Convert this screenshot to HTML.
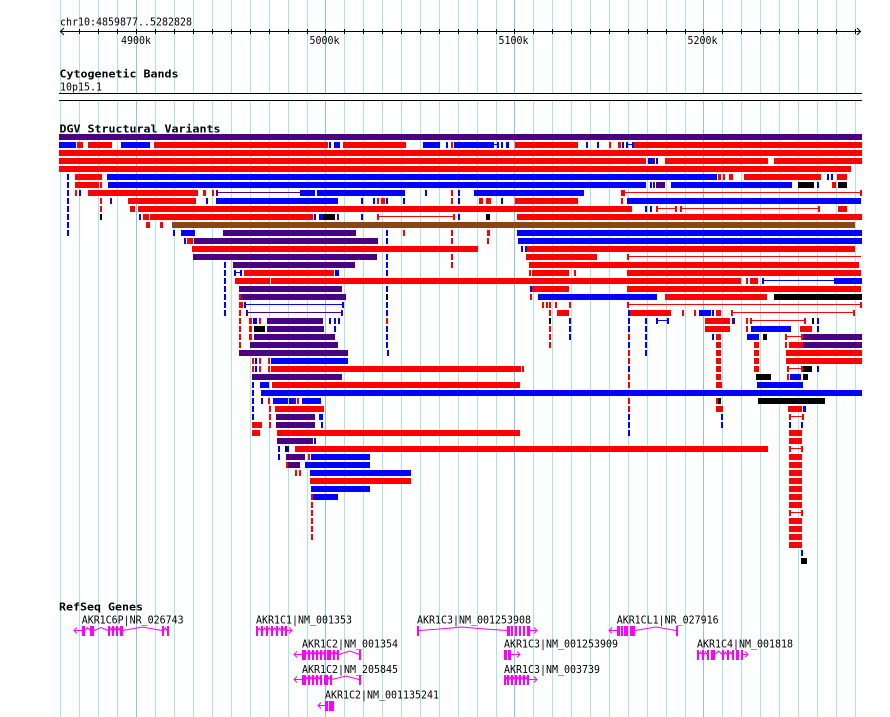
<!DOCTYPE html>
<html><head><meta charset="utf-8"><style>
html,body{margin:0;padding:0;background:#fff;}
svg{display:block;}
.r{fill:#ff0000}.b{fill:#0000ff}.p{fill:#4b0082}.k{fill:#000}.n{fill:#8b4513}
.g{fill:#a6e4ee}.G{fill:#86c4ec}
.t{font-family:"DejaVu Sans Mono","Liberation Mono",monospace;font-size:11px;fill:#000}
.tb{font-family:"DejaVu Sans Mono","Liberation Mono",monospace;font-size:11px;font-weight:bold;fill:#000}
.m{fill:#ff00ff}.ms{fill:none;stroke:#ff00ff;stroke-width:1}
</style></head><body>
<svg width="890" height="717" viewBox="0 0 890 717" xmlns="http://www.w3.org/2000/svg">
<rect x="0" y="0" width="890" height="717" fill="#fff"/>
<g>
<rect class="g" x="60" y="0" width="1" height="717"/><rect class="g" x="79" y="0" width="1" height="717"/><rect class="g" x="98" y="0" width="1" height="717"/><rect class="g" x="117" y="0" width="1" height="717"/><rect class="G" x="136" y="0" width="1" height="717"/><rect class="g" x="155" y="0" width="1" height="717"/><rect class="g" x="174" y="0" width="1" height="717"/><rect class="g" x="193" y="0" width="1" height="717"/><rect class="g" x="212" y="0" width="1" height="717"/><rect class="g" x="231" y="0" width="1" height="717"/><rect class="g" x="250" y="0" width="1" height="717"/><rect class="g" x="269" y="0" width="1" height="717"/><rect class="g" x="288" y="0" width="1" height="717"/><rect class="g" x="307" y="0" width="1" height="717"/><rect class="G" x="325" y="0" width="1" height="717"/><rect class="g" x="344" y="0" width="1" height="717"/><rect class="g" x="363" y="0" width="1" height="717"/><rect class="g" x="382" y="0" width="1" height="717"/><rect class="g" x="401" y="0" width="1" height="717"/><rect class="g" x="420" y="0" width="1" height="717"/><rect class="g" x="439" y="0" width="1" height="717"/><rect class="g" x="458" y="0" width="1" height="717"/><rect class="g" x="477" y="0" width="1" height="717"/><rect class="g" x="496" y="0" width="1" height="717"/><rect class="G" x="514" y="0" width="1" height="717"/><rect class="g" x="533" y="0" width="1" height="717"/><rect class="g" x="552" y="0" width="1" height="717"/><rect class="g" x="571" y="0" width="1" height="717"/><rect class="g" x="590" y="0" width="1" height="717"/><rect class="g" x="609" y="0" width="1" height="717"/><rect class="g" x="628" y="0" width="1" height="717"/><rect class="g" x="647" y="0" width="1" height="717"/><rect class="g" x="666" y="0" width="1" height="717"/><rect class="g" x="685" y="0" width="1" height="717"/><rect class="G" x="703" y="0" width="1" height="717"/><rect class="g" x="722" y="0" width="1" height="717"/><rect class="g" x="741" y="0" width="1" height="717"/><rect class="g" x="760" y="0" width="1" height="717"/><rect class="g" x="779" y="0" width="1" height="717"/><rect class="g" x="798" y="0" width="1" height="717"/><rect class="g" x="817" y="0" width="1" height="717"/><rect class="g" x="836" y="0" width="1" height="717"/><rect class="g" x="855" y="0" width="1" height="717"/>
</g>
<!-- ruler -->
<text class="t" x="60" y="25.5" textLength="132" lengthAdjust="spacingAndGlyphs">chr10:4859877..5282828</text>
<rect class="k" x="60" y="31" width="801" height="1"/>
<polyline points="64,28 60.5,31.5 64,35" fill="none" stroke="#000" stroke-width="1"/>
<polyline points="857,28 860.5,31.5 857,35" fill="none" stroke="#000" stroke-width="1"/>
<g class="k">
<rect x="79" y="29" width="1" height="5"/><rect x="98" y="29" width="1" height="5"/><rect x="117" y="29" width="1" height="5"/><rect x="136" y="29" width="1" height="5"/><rect x="155" y="29" width="1" height="5"/><rect x="174" y="29" width="1" height="5"/><rect x="193" y="29" width="1" height="5"/><rect x="212" y="29" width="1" height="5"/><rect x="231" y="29" width="1" height="5"/><rect x="250" y="29" width="1" height="5"/><rect x="269" y="29" width="1" height="5"/><rect x="288" y="29" width="1" height="5"/><rect x="307" y="29" width="1" height="5"/><rect x="325" y="29" width="1" height="5"/><rect x="344" y="29" width="1" height="5"/><rect x="363" y="29" width="1" height="5"/><rect x="382" y="29" width="1" height="5"/><rect x="401" y="29" width="1" height="5"/><rect x="420" y="29" width="1" height="5"/><rect x="439" y="29" width="1" height="5"/><rect x="458" y="29" width="1" height="5"/><rect x="477" y="29" width="1" height="5"/><rect x="496" y="29" width="1" height="5"/><rect x="514" y="29" width="1" height="5"/><rect x="533" y="29" width="1" height="5"/><rect x="552" y="29" width="1" height="5"/><rect x="571" y="29" width="1" height="5"/><rect x="590" y="29" width="1" height="5"/><rect x="609" y="29" width="1" height="5"/><rect x="628" y="29" width="1" height="5"/><rect x="647" y="29" width="1" height="5"/><rect x="666" y="29" width="1" height="5"/><rect x="685" y="29" width="1" height="5"/><rect x="703" y="29" width="1" height="5"/><rect x="722" y="29" width="1" height="5"/><rect x="741" y="29" width="1" height="5"/><rect x="760" y="29" width="1" height="5"/><rect x="779" y="29" width="1" height="5"/><rect x="798" y="29" width="1" height="5"/><rect x="817" y="29" width="1" height="5"/><rect x="836" y="29" width="1" height="5"/><rect x="855" y="29" width="1" height="5"/>
</g>
<text class="t" x="121" y="44" textLength="30" lengthAdjust="spacingAndGlyphs">4900k</text>
<text class="t" x="309.5" y="44" textLength="30" lengthAdjust="spacingAndGlyphs">5000k</text>
<text class="t" x="498.5" y="44" textLength="30" lengthAdjust="spacingAndGlyphs">5100k</text>
<text class="t" x="687.5" y="44" textLength="30" lengthAdjust="spacingAndGlyphs">5200k</text>
<!-- cytoband -->
<text class="tb" x="59.5" y="77.7" textLength="119" lengthAdjust="spacingAndGlyphs">Cytogenetic Bands</text>
<text class="t" x="60" y="90.6" textLength="42" lengthAdjust="spacingAndGlyphs">10p15.1</text>
<rect x="59" y="94" width="803" height="6" fill="#fff"/>
<rect class="k" x="59" y="93" width="803" height="1"/>
<rect class="k" x="59" y="100" width="803" height="1"/>
<text class="tb" x="59.5" y="132.6" textLength="161" lengthAdjust="spacingAndGlyphs">DGV Structural Variants</text>
<!-- DGV rows -->
<g transform="translate(0,134)"><rect class="p" x="59" width="803" height="6"/></g>
<g transform="translate(0,142)"><rect class="b" x="59" width="17" height="6"/><rect class="r" x="77" width="6" height="6"/><rect class="r" x="88" width="24" height="6"/><rect class="b" x="121" width="29" height="6"/><rect class="r" x="154" width="174" height="6"/><rect class="b" x="329" width="2" height="6"/><rect class="b" x="334" width="6" height="6"/><rect class="r" x="343" width="63" height="6"/><rect class="b" x="423" width="17" height="6"/><rect class="b" x="446" width="2" height="6"/><rect class="r" x="451" width="2" height="6"/><rect class="b" x="454" width="40" height="6"/><rect class="b" x="494" y="2" width="3" height="1"/><rect class="b" x="497" width="2" height="6"/><rect class="b" x="501" width="2" height="6"/><rect class="b" x="506" width="3" height="6"/><rect class="r" x="515" width="63" height="6"/><rect class="b" x="586" width="2" height="6"/><rect class="b" x="597" width="2" height="6"/><rect class="r" x="609" width="2" height="6"/><rect class="r" x="618" width="3" height="6"/><rect class="b" x="622" width="2" height="6"/><rect class="b" x="626" width="2" height="6"/><rect class="b" x="628" y="2" width="4" height="1"/><rect class="b" x="632" width="2" height="6"/><rect class="r" x="634" width="228" height="6"/></g>
<g transform="translate(0,150)"><rect class="r" x="59" width="803" height="6"/></g>
<g transform="translate(0,158)"><rect class="r" x="59" width="587" height="6"/><rect class="b" x="648" width="4" height="6"/><rect class="p" x="652" width="3" height="6"/><rect class="b" x="656" width="2" height="6"/><rect class="r" x="665" width="103" height="6"/><rect class="r" x="774" width="88" height="6"/></g>
<g transform="translate(0,166)"><rect class="r" x="59" width="792" height="6"/></g>
<g transform="translate(0,174)"><rect class="b" x="67" width="2" height="6"/><rect class="r" x="75" width="27" height="6"/><rect class="b" x="107" width="610" height="6"/><rect class="r" x="718" width="3" height="6"/><rect class="r" x="723" width="2" height="6"/><rect class="r" x="729" width="4" height="6"/><rect class="r" x="744" width="77" height="6"/><rect class="b" x="827" width="2" height="6"/><rect class="b" x="831" width="2" height="6"/><rect class="r" x="837" width="10" height="6"/></g>
<g transform="translate(0,182)"><rect class="b" x="67" width="2" height="6"/><rect class="r" x="75" width="24" height="6"/><rect class="r" x="100" width="2" height="6"/><rect class="b" x="108" width="538" height="6"/><rect class="b" x="650" width="2" height="6"/><rect class="p" x="653" width="2" height="6"/><rect class="p" x="656" width="9" height="6"/><rect class="b" x="671" width="121" height="6"/><rect class="k" x="798" width="16" height="6"/><rect class="b" x="817" width="2" height="6"/><rect class="r" x="832" width="4" height="6"/><rect class="k" x="838" width="9" height="6"/></g>
<g transform="translate(0,190)"><rect class="b" x="67" width="2" height="6"/><rect class="r" x="75" width="2" height="6"/><rect class="b" x="79" width="2" height="6"/><rect class="r" x="88" width="110" height="6"/><rect class="r" x="203" width="3" height="6"/><rect class="r" x="212" width="2" height="6"/><rect class="p" x="216" width="2" height="6"/><rect class="p" x="218" y="2" width="82" height="1"/><rect class="b" x="300" width="15" height="6"/><rect class="b" x="317" width="88" height="6"/><rect class="b" x="425" width="2" height="6"/><rect class="r" x="451" width="2" height="6"/><rect class="b" x="458" width="2" height="6"/><rect class="b" x="474" width="110" height="6"/><rect class="r" x="621" width="4" height="6"/><rect class="r" x="625" y="2" width="235" height="1"/><rect class="r" x="860" width="2" height="6"/></g>
<g transform="translate(0,198)"><rect class="b" x="67" width="2" height="6"/><rect class="r" x="100" width="2" height="6"/><rect class="p" x="110" width="2" height="6"/><rect class="r" x="128" width="68" height="6"/><rect class="b" x="206" width="2" height="6"/><rect class="b" x="216" width="122" height="6"/><rect class="b" x="361" width="2" height="6"/><rect class="b" x="373" width="2" height="6"/><rect class="r" x="377" width="2" height="6"/><rect class="r" x="381" width="4" height="6"/><rect class="b" x="386" width="2" height="6"/><rect class="b" x="403" width="2" height="6"/><rect class="r" x="451" width="2" height="6"/><rect class="b" x="458" width="2" height="6"/><rect class="r" x="479" width="4" height="6"/><rect class="r" x="486" width="5" height="6"/><rect class="b" x="501" width="2" height="6"/><rect class="r" x="515" width="63" height="6"/><rect class="r" x="621" width="2" height="6"/><rect class="b" x="627" width="234" height="6"/></g>
<g transform="translate(0,206)"><rect class="b" x="67" width="2" height="6"/><rect class="r" x="100" width="2" height="6"/><rect class="r" x="130" width="5" height="6"/><rect class="r" x="138" width="494" height="6"/><rect class="b" x="645" width="2" height="6"/><rect class="b" x="650" width="2" height="6"/><rect class="r" x="656" width="2" height="6"/><rect class="r" x="658" y="2" width="17" height="1"/><rect class="r" x="675" width="2" height="6"/><rect class="r" x="680" width="2" height="6"/><rect class="r" x="682" y="2" width="136" height="1"/><rect class="r" x="818" width="2" height="6"/><rect class="r" x="838" width="9" height="6"/></g>
<g transform="translate(0,214)"><rect class="b" x="67" width="2" height="6"/><rect class="k" x="100" width="2" height="6"/><rect class="p" x="139" width="2" height="6"/><rect class="r" x="143" width="6" height="6"/><rect class="r" x="150" width="163" height="6"/><rect class="b" x="314" width="2" height="6"/><rect class="b" x="319" width="4" height="6"/><rect class="k" x="323" width="12" height="6"/><rect class="p" x="337" width="2" height="6"/><rect class="b" x="361" width="2" height="6"/><rect class="r" x="377" width="2" height="6"/><rect class="r" x="379" y="2" width="74" height="1"/><rect class="r" x="453" width="2" height="6"/><rect class="b" x="458" width="2" height="6"/><rect class="k" x="486" width="4" height="6"/><rect class="r" x="517" width="345" height="6"/></g>
<g transform="translate(0,222)"><rect class="b" x="67" width="2" height="6"/><rect class="r" x="146" width="4" height="6"/><rect class="r" x="160" width="3" height="6"/><rect class="n" x="172" width="683" height="6"/></g>
<g transform="translate(0,230)"><rect class="b" x="67" width="2" height="6"/><rect class="b" x="173" width="2" height="6"/><rect class="b" x="181" width="14" height="6"/><rect class="p" x="223" width="133" height="6"/><rect class="b" x="386" width="2" height="6"/><rect class="r" x="403" width="2" height="6"/><rect class="r" x="451" width="2" height="6"/><rect class="r" x="487" width="3" height="6"/><rect class="b" x="517" width="345" height="6"/></g>
<g transform="translate(0,238)"><rect class="b" x="184" width="2" height="6"/><rect class="r" x="187" width="6" height="6"/><rect class="p" x="194" width="184" height="6"/><rect class="b" x="386" width="2" height="6"/><rect class="r" x="451" width="2" height="6"/><rect class="r" x="487" width="2" height="6"/><rect class="b" x="518" width="344" height="6"/></g>
<g transform="translate(0,246)"><rect class="r" x="192" width="286" height="6"/><rect class="b" x="521" width="2" height="6"/><rect class="b" x="525" width="2" height="6"/><rect class="r" x="527" width="328" height="6"/></g>
<g transform="translate(0,254)"><rect class="p" x="193" width="184" height="6"/><rect class="b" x="386" width="2" height="6"/><rect class="r" x="451" width="2" height="6"/><rect class="r" x="526" width="71" height="6"/><rect class="r" x="627" width="2" height="6"/><rect class="r" x="629" y="2" width="232" height="1"/></g>
<g transform="translate(0,262)"><rect class="b" x="224" width="2" height="6"/><rect class="p" x="233" width="122" height="6"/><rect class="b" x="386" width="2" height="6"/><rect class="r" x="451" width="2" height="6"/><rect class="r" x="529" width="330" height="6"/></g>
<g transform="translate(0,270)"><rect class="b" x="224" width="2" height="6"/><rect class="b" x="234" width="2" height="6"/><rect class="b" x="236" y="2" width="4" height="1"/><rect class="b" x="240" width="2" height="6"/><rect class="r" x="244" width="90" height="6"/><rect class="b" x="335" width="4" height="6"/><rect class="b" x="386" width="2" height="6"/><rect class="r" x="529" width="2" height="6"/><rect class="r" x="532" width="37" height="6"/><rect class="r" x="574" width="2" height="6"/><rect class="r" x="627" width="234" height="6"/></g>
<g transform="translate(0,278)"><rect class="b" x="224" width="2" height="6"/><rect class="r" x="235" width="35" height="6"/><rect class="r" x="271" width="470" height="6"/><rect class="r" x="746" width="2" height="6"/><rect class="r" x="750" width="8" height="6"/><rect class="b" x="762" width="2" height="6"/><rect class="b" x="764" y="2" width="70" height="1"/><rect class="b" x="834" width="28" height="6"/></g>
<g transform="translate(0,286)"><rect class="b" x="224" width="2" height="6"/><rect class="p" x="239" width="103" height="6"/><rect class="b" x="386" width="2" height="6"/><rect class="b" x="530" width="2" height="6"/><rect class="r" x="532" width="37" height="6"/><rect class="r" x="627" width="234" height="6"/></g>
<g transform="translate(0,294)"><rect class="b" x="224" width="2" height="6"/><rect class="r" x="239" width="2" height="6"/><rect class="p" x="241" width="105" height="6"/><rect class="k" x="386" width="2" height="6"/><rect class="r" x="530" width="2" height="6"/><rect class="b" x="538" width="119" height="6"/><rect class="r" x="665" width="102" height="6"/><rect class="k" x="774" width="88" height="6"/></g>
<g transform="translate(0,302)"><rect class="b" x="224" width="2" height="6"/><rect class="r" x="239" width="4" height="6"/><rect class="b" x="244" width="2" height="6"/><rect class="b" x="246" y="2" width="96" height="1"/><rect class="b" x="342" width="2" height="6"/><rect class="b" x="386" width="2" height="6"/><rect class="r" x="542" width="2" height="6"/><rect class="r" x="546" width="2" height="6"/><rect class="r" x="549" width="2" height="6"/><rect class="r" x="555" width="2" height="6"/><rect class="r" x="569" width="2" height="6"/><rect class="r" x="627" width="2" height="6"/><rect class="r" x="629" y="2" width="231" height="1"/><rect class="r" x="860" width="2" height="6"/></g>
<g transform="translate(0,310)"><rect class="b" x="224" width="2" height="6"/><rect class="r" x="239" width="2" height="6"/><rect class="p" x="246" width="2" height="6"/><rect class="p" x="248" y="2" width="93" height="1"/><rect class="p" x="341" width="2" height="6"/><rect class="b" x="386" width="2" height="6"/><rect class="r" x="549" width="2" height="6"/><rect class="r" x="557" width="12" height="6"/><rect class="b" x="628" width="2" height="6"/><rect class="r" x="630" width="41" height="6"/><rect class="r" x="682" width="2" height="6"/><rect class="r" x="694" width="2" height="6"/><rect class="b" x="699" width="12" height="6"/><rect class="b" x="712" width="2" height="6"/><rect class="r" x="716" width="5" height="6"/><rect class="r" x="731" width="2" height="6"/><rect class="r" x="733" y="2" width="120" height="1"/><rect class="r" x="853" width="2" height="6"/></g>
<g transform="translate(0,318)"><rect class="r" x="239" width="2" height="6"/><rect class="r" x="249" width="3" height="6"/><rect class="b" x="253" width="4" height="6"/><rect class="r" x="259" width="2" height="6"/><rect class="p" x="267" width="56" height="6"/><rect class="b" x="329" width="2" height="6"/><rect class="b" x="334" width="2" height="6"/><rect class="b" x="338" width="2" height="6"/><rect class="r" x="386" width="2" height="6"/><rect class="k" x="549" width="2" height="6"/><rect class="b" x="569" width="2" height="6"/><rect class="b" x="628" width="2" height="6"/><rect class="b" x="645" width="2" height="6"/><rect class="b" x="656" width="2" height="6"/><rect class="b" x="658" y="2" width="9" height="1"/><rect class="b" x="667" width="2" height="6"/><rect class="r" x="705" width="25" height="6"/><rect class="p" x="732" width="3" height="6"/><rect class="r" x="746" width="2" height="6"/><rect class="r" x="750" width="2" height="6"/><rect class="r" x="752" y="2" width="52" height="1"/><rect class="r" x="804" width="2" height="6"/><rect class="k" x="812" width="2" height="6"/><rect class="b" x="817" width="2" height="6"/></g>
<g transform="translate(0,326)"><rect class="r" x="239" width="2" height="6"/><rect class="r" x="249" width="3" height="6"/><rect class="k" x="254" width="11" height="6"/><rect class="p" x="267" width="57" height="6"/><rect class="b" x="334" width="2" height="6"/><rect class="b" x="386" width="2" height="6"/><rect class="r" x="549" width="2" height="6"/><rect class="b" x="569" width="2" height="6"/><rect class="b" x="628" width="2" height="6"/><rect class="b" x="645" width="2" height="6"/><rect class="r" x="705" width="25" height="6"/><rect class="r" x="746" width="2" height="6"/><rect class="b" x="751" width="40" height="6"/><rect class="r" x="800" width="12" height="6"/><rect class="b" x="817" width="2" height="6"/></g>
<g transform="translate(0,334)"><rect class="r" x="239" width="2" height="6"/><rect class="r" x="249" width="3" height="6"/><rect class="p" x="254" width="81" height="6"/><rect class="b" x="386" width="2" height="6"/><rect class="r" x="549" width="2" height="6"/><rect class="b" x="569" width="2" height="6"/><rect class="r" x="628" width="2" height="6"/><rect class="b" x="645" width="2" height="6"/><rect class="b" x="712" width="2" height="6"/><rect class="r" x="716" width="5" height="6"/><rect class="b" x="747" width="12" height="6"/><rect class="k" x="763" width="4" height="6"/><rect class="r" x="785" width="2" height="6"/><rect class="r" x="787" y="2" width="14" height="1"/><rect class="r" x="801" width="2" height="6"/><rect class="p" x="803" width="59" height="6"/></g>
<g transform="translate(0,342)"><rect class="r" x="239" width="2" height="6"/><rect class="p" x="250" width="88" height="6"/><rect class="b" x="386" width="2" height="6"/><rect class="r" x="549" width="2" height="6"/><rect class="b" x="628" width="2" height="6"/><rect class="b" x="645" width="2" height="6"/><rect class="r" x="716" width="5" height="6"/><rect class="r" x="754" width="5" height="6"/><rect class="r" x="785" width="2" height="6"/><rect class="r" x="789" width="14" height="6"/><rect class="p" x="803" width="59" height="6"/></g>
<g transform="translate(0,350)"><rect class="p" x="239" width="109" height="6"/><rect class="b" x="387" width="2" height="6"/><rect class="r" x="628" width="2" height="6"/><rect class="b" x="645" width="2" height="6"/><rect class="r" x="716" width="5" height="6"/><rect class="r" x="754" width="5" height="6"/><rect class="r" x="786" width="76" height="6"/></g>
<g transform="translate(0,358)"><rect class="r" x="252" width="2" height="6"/><rect class="b" x="255" width="2" height="6"/><rect class="r" x="259" width="2" height="6"/><rect class="r" x="268" width="2" height="6"/><rect class="b" x="271" width="77" height="6"/><rect class="r" x="628" width="2" height="6"/><rect class="r" x="716" width="5" height="6"/><rect class="r" x="754" width="5" height="6"/><rect class="r" x="786" width="76" height="6"/></g>
<g transform="translate(0,366)"><rect class="r" x="252" width="2" height="6"/><rect class="b" x="255" width="2" height="6"/><rect class="r" x="259" width="2" height="6"/><rect class="r" x="268" width="2" height="6"/><rect class="r" x="271" width="250" height="6"/><rect class="r" x="522" width="2" height="6"/><rect class="b" x="628" width="2" height="6"/><rect class="r" x="716" width="5" height="6"/><rect class="r" x="754" width="5" height="6"/><rect class="r" x="787" width="2" height="6"/><rect class="r" x="789" y="2" width="12" height="1"/><rect class="r" x="801" width="2" height="6"/><rect class="k" x="803" width="9" height="6"/><rect class="b" x="817" width="2" height="6"/></g>
<g transform="translate(0,374)"><rect class="p" x="252" width="90" height="6"/><rect class="r" x="628" width="2" height="6"/><rect class="r" x="716" width="5" height="6"/><rect class="k" x="756" width="15" height="6"/><rect class="r" x="787" width="2" height="6"/><rect class="b" x="790" width="11" height="6"/><rect class="k" x="803" width="5" height="6"/></g>
<g transform="translate(0,382)"><rect class="b" x="252" width="2" height="6"/><rect class="b" x="260" width="9" height="6"/><rect class="r" x="272" width="248" height="6"/><rect class="r" x="628" width="2" height="6"/><rect class="r" x="716" width="6" height="6"/><rect class="b" x="757" width="46" height="6"/></g>
<g transform="translate(0,390)"><rect class="b" x="252" width="2" height="6"/><rect class="b" x="261" width="601" height="6"/></g>
<g transform="translate(0,398)"><rect class="b" x="252" width="2" height="6"/><rect class="b" x="261" width="2" height="6"/><rect class="r" x="268" width="2" height="6"/><rect class="b" x="273" width="15" height="6"/><rect class="b" x="289" width="4" height="6"/><rect class="p" x="293" width="3" height="6"/><rect class="r" x="297" width="2" height="6"/><rect class="b" x="302" width="19" height="6"/><rect class="r" x="628" width="2" height="6"/><rect class="r" x="716" width="2" height="6"/><rect class="k" x="718" width="3" height="6"/><rect class="k" x="758" width="67" height="6"/></g>
<g transform="translate(0,406)"><rect class="b" x="252" width="2" height="6"/><rect class="r" x="269" width="2" height="6"/><rect class="r" x="275" width="49" height="6"/><rect class="r" x="628" width="2" height="6"/><rect class="r" x="716" width="7" height="6"/><rect class="r" x="788" width="14" height="6"/><rect class="b" x="803" width="3" height="6"/></g>
<g transform="translate(0,414)"><rect class="b" x="252" width="2" height="6"/><rect class="r" x="269" width="2" height="6"/><rect class="p" x="276" width="39" height="6"/><rect class="b" x="319" width="4" height="6"/><rect class="b" x="628" width="2" height="6"/><rect class="b" x="721" width="2" height="6"/><rect class="r" x="789" width="2" height="6"/><rect class="r" x="791" y="2" width="11" height="1"/><rect class="r" x="802" width="2" height="6"/></g>
<g transform="translate(0,422)"><rect class="r" x="252" width="10" height="6"/><rect class="r" x="269" width="2" height="6"/><rect class="p" x="276" width="39" height="6"/><rect class="b" x="321" width="2" height="6"/><rect class="b" x="628" width="2" height="6"/><rect class="b" x="721" width="2" height="6"/><rect class="b" x="789" width="2" height="6"/><rect class="b" x="801" width="2" height="6"/></g>
<g transform="translate(0,430)"><rect class="r" x="252" width="8" height="6"/><rect class="r" x="277" width="243" height="6"/><rect class="b" x="628" width="2" height="6"/><rect class="r" x="789" width="13" height="6"/></g>
<g transform="translate(0,438)"><rect class="p" x="277" width="36" height="6"/><rect class="b" x="314" width="2" height="6"/><rect class="r" x="789" width="13" height="6"/></g>
<g transform="translate(0,446)"><rect class="b" x="278" width="2" height="6"/><rect class="k" x="285" width="2" height="6"/><rect class="b" x="287" width="2" height="6"/><rect class="r" x="295" width="473" height="6"/><rect class="r" x="789" width="2" height="6"/><rect class="r" x="791" y="2" width="10" height="1"/><rect class="r" x="801" width="2" height="6"/></g>
<g transform="translate(0,454)"><rect class="b" x="278" width="2" height="6"/><rect class="p" x="286" width="19" height="6"/><rect class="r" x="308" width="2" height="6"/><rect class="b" x="311" width="59" height="6"/><rect class="r" x="789" width="13" height="6"/></g>
<g transform="translate(0,462)"><rect class="r" x="286" width="2" height="6"/><rect class="p" x="288" width="12" height="6"/><rect class="b" x="305" width="65" height="6"/><rect class="r" x="789" width="13" height="6"/></g>
<g transform="translate(0,470)"><rect class="r" x="295" width="2" height="6"/><rect class="r" x="299" width="2" height="6"/><rect class="b" x="310" width="101" height="6"/><rect class="r" x="789" width="13" height="6"/></g>
<g transform="translate(0,478)"><rect class="r" x="310" width="101" height="6"/><rect class="r" x="789" width="13" height="6"/></g>
<g transform="translate(0,486)"><rect class="b" x="311" width="59" height="6"/><rect class="r" x="789" width="13" height="6"/></g>
<g transform="translate(0,494)"><rect class="r" x="311" width="2" height="6"/><rect class="b" x="313" width="25" height="6"/><rect class="r" x="789" width="13" height="6"/></g>
<g transform="translate(0,502)"><rect class="r" x="311" width="2" height="6"/><rect class="r" x="789" width="13" height="6"/></g>
<g transform="translate(0,510)"><rect class="r" x="311" width="2" height="6"/><rect class="r" x="789" width="2" height="6"/><rect class="r" x="791" y="2" width="10" height="1"/><rect class="r" x="801" width="2" height="6"/></g>
<g transform="translate(0,518)"><rect class="r" x="311" width="2" height="6"/><rect class="r" x="789" width="13" height="6"/></g>
<g transform="translate(0,526)"><rect class="r" x="311" width="2" height="6"/><rect class="r" x="789" width="13" height="6"/></g>
<g transform="translate(0,534)"><rect class="r" x="311" width="2" height="6"/><rect class="r" x="789" width="13" height="6"/></g>
<g transform="translate(0,542)"><rect class="r" x="789" width="13" height="6"/></g>
<g transform="translate(0,550)"><rect class="b" x="801" width="2" height="6"/></g>
<g transform="translate(0,558)"><rect class="k" x="801" width="6" height="6"/></g>
<!-- RefSeq genes -->
<text class="tb" x="59" y="610.5" textLength="84" lengthAdjust="spacingAndGlyphs">RefSeq Genes</text>
<text class="t" x="81.7" y="623.7" textLength="102" lengthAdjust="spacingAndGlyphs">AKR1C6P|NR_026743</text>
<text class="t" x="256" y="623.7" textLength="96" lengthAdjust="spacingAndGlyphs">AKR1C1|NM_001353</text>
<text class="t" x="417" y="623.7" textLength="114" lengthAdjust="spacingAndGlyphs">AKR1C3|NM_001253908</text>
<text class="t" x="616.7" y="623.7" textLength="102" lengthAdjust="spacingAndGlyphs">AKR1CL1|NR_027916</text>
<text class="t" x="302" y="647.7" textLength="96" lengthAdjust="spacingAndGlyphs">AKR1C2|NM_001354</text>
<text class="t" x="504" y="647.7" textLength="114" lengthAdjust="spacingAndGlyphs">AKR1C3|NM_001253909</text>
<text class="t" x="697" y="647.7" textLength="96" lengthAdjust="spacingAndGlyphs">AKR1C4|NM_001818</text>
<text class="t" x="302" y="673" textLength="96" lengthAdjust="spacingAndGlyphs">AKR1C2|NM_205845</text>
<text class="t" x="504" y="673" textLength="96" lengthAdjust="spacingAndGlyphs">AKR1C3|NM_003739</text>
<text class="t" x="325" y="698.7" textLength="114" lengthAdjust="spacingAndGlyphs">AKR1C2|NM_001135241</text>
<!-- gene glyphs row A -->
<g class="ms">
<polyline points="77,627.5 74,630.5 77,633.5"/><line x1="74" y1="630.5" x2="82" y2="630.5"/>
<polyline points="85,630.5 87.5,627.5 90,630.5"/><polyline points="94,630.5 101,627.5 108,630.5"/><polyline points="110,630.5 111,628 112,630.5"/><polyline points="114,630.5 115,628 116,630.5"/><polyline points="118,630.5 119,628 120,630.5"/><polyline points="123,630.5 142,627 162,630.5"/><polyline points="164,630.5 165.5,628 167,630.5"/>
<polyline points="258,630.5 259.5,628 261,630.5"/><polyline points="263,630.5 264.5,628 266,630.5"/><polyline points="268,630.5 269.5,628 271,630.5"/><polyline points="273,630.5 274.5,628 276,630.5"/><polyline points="278,630.5 279.5,628 281,630.5"/><polyline points="283,630.5 284,628 285,630.5"/><line x1="287" y1="630.5" x2="292" y2="630.5"/><polyline points="289,627.5 292,630.5 289,633.5"/>
<polyline points="419,630.5 440,629 462,627 485,629 507,630.5"/><line x1="530" y1="630.5" x2="537" y2="630.5"/><polyline points="534,627.5 537,630.5 534,633.5"/>
<polyline points="612,627.5 609,630.5 612,633.5"/><line x1="609" y1="630.5" x2="617" y2="630.5"/><polyline points="635,630.5 656,627 676,630.5"/>
</g>
<g class="m">
<rect x="82" y="626" width="3" height="10"/><rect x="90" y="626" width="4" height="10"/><rect x="108" y="626" width="2" height="10"/><rect x="112" y="626" width="2" height="10"/><rect x="116" y="626" width="2" height="10"/><rect x="120" y="626" width="3" height="10"/><rect x="162" y="626" width="2" height="10"/><rect x="167" y="626" width="2" height="10"/>
<rect x="256" y="626" width="2" height="10"/><rect x="261" y="626" width="2" height="10"/><rect x="266" y="626" width="2" height="10"/><rect x="271" y="626" width="2" height="10"/><rect x="276" y="626" width="2" height="10"/><rect x="281" y="626" width="2" height="10"/><rect x="285" y="626" width="2" height="10"/>
<rect x="417" y="626" width="2" height="10"/><rect x="507" y="626" width="3" height="10"/><rect x="511" y="626" width="2" height="10"/><rect x="515" y="626" width="2" height="10"/><rect x="519" y="626" width="2" height="10"/><rect x="523" y="626" width="2" height="10"/><rect x="527" y="626" width="3" height="10"/>
<rect x="617" y="626" width="3" height="10"/><rect x="621" y="626" width="2" height="10"/><rect x="624" y="626" width="4" height="10"/><rect x="630" y="626" width="5" height="10"/><rect x="676" y="626" width="2" height="10"/>
</g>
<!-- row B -->
<g class="ms">
<polyline points="297,651.5 294,654.5 297,657.5"/><line x1="294" y1="654.5" x2="302" y2="654.5"/>
<polyline points="306,654.5 307,652 308,654.5"/><polyline points="310,654.5 311,652 312,654.5"/><polyline points="314,654.5 315,652 316,654.5"/><polyline points="318,654.5 319,652 320,654.5"/><polyline points="322,654.5 323,652 324,654.5"/><polyline points="331,654.5 332,652 333,654.5"/><polyline points="335,654.5 336,652 337,654.5"/><polyline points="339,654.5 350,651 359,654.5"/>
<line x1="511" y1="654.5" x2="520" y2="654.5"/><polyline points="517,651.5 520,654.5 517,657.5"/>
<polyline points="699,654.5 700.5,652 702,654.5"/><polyline points="704,654.5 705.5,652 707,654.5"/><polyline points="715,654.5 718.5,651 722,654.5"/><polyline points="724,654.5 725.5,652 727,654.5"/><polyline points="729,654.5 730.5,652 732,654.5"/><line x1="743" y1="654.5" x2="748" y2="654.5"/><polyline points="745,651.5 748,654.5 745,657.5"/>
</g>
<g class="m">
<rect x="302" y="650" width="4" height="10"/><rect x="308" y="650" width="2" height="10"/><rect x="312" y="650" width="2" height="10"/><rect x="316" y="650" width="2" height="10"/><rect x="320" y="650" width="2" height="10"/><rect x="324" y="650" width="2" height="10"/><rect x="327" y="650" width="4" height="10"/><rect x="333" y="650" width="2" height="10"/><rect x="337" y="650" width="2" height="10"/><rect x="359" y="650" width="2" height="10"/>
<rect x="504" y="650" width="3" height="10"/><rect x="508" y="650" width="3" height="10"/>
<rect x="697" y="650" width="2" height="10"/><rect x="702" y="650" width="2" height="10"/><rect x="707" y="650" width="2" height="10"/><rect x="711" y="650" width="4" height="10"/><rect x="722" y="650" width="2" height="10"/><rect x="727" y="650" width="2" height="10"/><rect x="732" y="650" width="2" height="10"/><rect x="736" y="650" width="3" height="10"/><rect x="741" y="650" width="2" height="10"/>
</g>
<!-- row C -->
<g class="ms">
<polyline points="297,676.5 294,679.5 297,682.5"/><line x1="294" y1="679.5" x2="302" y2="679.5"/>
<polyline points="306,679.5 307,677 308,679.5"/><polyline points="310,679.5 311,677 312,679.5"/><polyline points="314,679.5 315,677 316,679.5"/><polyline points="318,679.5 319,677 320,679.5"/><polyline points="328,679.5 329,677 330,679.5"/><polyline points="332,679.5 346,676 359,679.5"/>
<polyline points="506,679.5 506.5,677 507,679.5"/><polyline points="509,679.5 510,677 511,679.5"/><polyline points="513,679.5 514,677 515,679.5"/><polyline points="517,679.5 518,677 519,679.5"/><polyline points="521,679.5 522,677 523,679.5"/><polyline points="525,679.5 526,677 527,679.5"/><line x1="529" y1="679.5" x2="537" y2="679.5"/><polyline points="534,676.5 537,679.5 534,682.5"/>
</g>
<g class="m">
<rect x="302" y="675" width="4" height="10"/><rect x="308" y="675" width="2" height="10"/><rect x="312" y="675" width="2" height="10"/><rect x="316" y="675" width="2" height="10"/><rect x="320" y="675" width="2" height="10"/><rect x="324" y="675" width="4" height="10"/><rect x="330" y="675" width="2" height="10"/><rect x="359" y="675" width="2" height="10"/>
<rect x="504" y="675" width="2" height="10"/><rect x="507" y="675" width="2" height="10"/><rect x="511" y="675" width="2" height="10"/><rect x="515" y="675" width="2" height="10"/><rect x="519" y="675" width="2" height="10"/><rect x="523" y="675" width="2" height="10"/><rect x="527" y="675" width="2" height="10"/>
</g>
<!-- row D -->
<g class="ms">
<polyline points="321,702.5 318,705.5 321,708.5"/><line x1="318" y1="705.5" x2="325" y2="705.5"/>
</g>
<g class="m">
<rect x="325" y="701" width="3" height="10"/><rect x="329" y="701" width="5" height="10"/>
</g>
</svg>
</body></html>
